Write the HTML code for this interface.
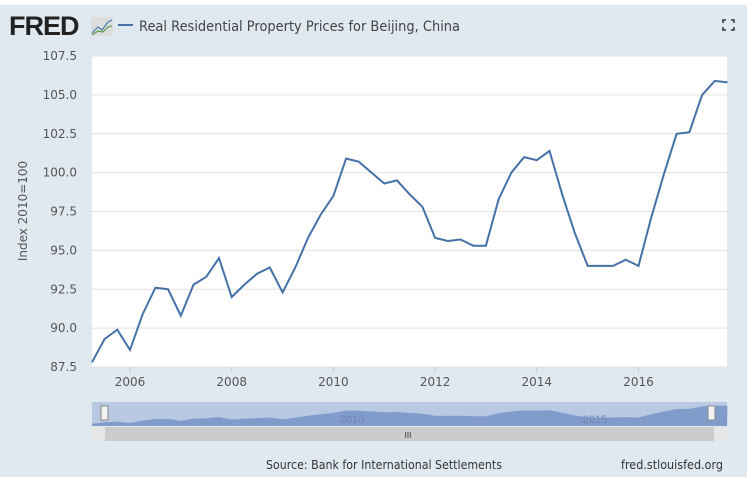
<!DOCTYPE html>
<html><head><meta charset="utf-8"><style>
body{margin:0;width:747px;height:477px;overflow:hidden;background:#fff;font-family:"Liberation Sans",sans-serif}
#bg{position:absolute;left:0;top:5px;width:747px;height:472px;background:#e1e9f0}
</style></head><body>
<div id="bg"></div>
<svg id="c" width="747" height="477" style="position:absolute;left:0;top:0">
<text x="9" y="35" font-size="27" font-weight="bold" fill="#222" font-family="Liberation Sans" letter-spacing="-1">FRED</text>
<g><rect x="91" y="17" width="22" height="19" fill="#ddd" rx="2"/><polyline points="92,33 98,27 102,30 108,22 112,20" fill="none" stroke="#4a7ab0" stroke-width="1.2"/><polyline points="92,35 98,31 103,32 108,27 112,26" fill="none" stroke="#5a9a40" stroke-width="1.2"/></g>
<line x1="118" y1="25" x2="133" y2="25" stroke="#4472a8" stroke-width="2"/>
<text x="139" y="31" font-size="14" fill="#444" font-family="DejaVu Sans" textLength="321" lengthAdjust="spacingAndGlyphs">Real Residential Property Prices for Beijing, China</text>
<g stroke="#333" stroke-width="1.5" fill="none"><path d="M723,23v-3h3M731,20h3v3M734,27v3h-3M726,30h-3v-3"/></g>
<rect x="92" y="56" width="635" height="311" fill="#fff"/>
<g id="grid"></g><g id="ticks"></g>
<text transform="translate(27,211) rotate(-90)" text-anchor="middle" font-size="12" fill="#555" font-family="DejaVu Sans">Index 2010=100</text>
<path id="line" fill="none" stroke="#4472a8" stroke-width="2"/>
<g>
<rect x="92" y="402" width="635" height="24" fill="#b9c9e4"/>
<path id="navarea" fill="#7f9ccb"/>
<text x="352" y="423" font-size="11" fill="#6f86b5" text-anchor="middle">2010</text>
<text x="595" y="423" font-size="11" fill="#6f86b5" text-anchor="middle">2015</text>
<rect x="101" y="406" width="7" height="14" fill="#f2f2f2" stroke="#888"/>
<rect x="708" y="406" width="7" height="14" fill="#f2f2f2" stroke="#888"/>
<rect x="92" y="427" width="635" height="14" fill="#ccc"/>
<rect x="92" y="427" width="13" height="14" fill="#e6e6e6"/><rect x="714" y="427" width="13" height="14" fill="#e6e6e6"/>
<text x="408" y="438" font-size="8" fill="#333" text-anchor="middle">III</text>
</g>
<text x="384" y="469" font-size="12" fill="#333" text-anchor="middle" font-family="DejaVu Sans" textLength="236" lengthAdjust="spacingAndGlyphs">Source: Bank for International Settlements</text>
<text x="723" y="469" font-size="12" fill="#333" text-anchor="end" font-family="DejaVu Sans" textLength="102" lengthAdjust="spacingAndGlyphs">fred.stlouisfed.org</text>
</svg>
<script>
const values=[87.8,89.3,89.9,88.6,90.9,92.6,92.5,90.8,92.8,93.3,94.5,92.0,92.8,93.5,93.9,92.3,93.9,95.8,97.3,98.5,100.9,100.7,100.0,99.3,99.5,98.6,97.8,95.8,95.6,95.7,95.3,95.3,98.3,100.0,101.0,100.8,101.4,98.6,96.1,94.0,94.0,94.0,94.4,94.0,97.1,99.9,102.5,102.6,105.0,105.9,105.8];
const startYear=2005.25;
const yTicks=[87.5,90.0,92.5,95.0,97.5,100.0,102.5,105.0,107.5];
const xTicks=[2006,2008,2010,2012,2014,2016];
const ns="http://www.w3.org/2000/svg";
const X=t=>130+(t-2006)*50.85, Y=v=>367-(v-87.5)*15.55;
const grid=document.getElementById('grid'),ticks=document.getElementById('ticks');
yTicks.forEach(v=>{
 const l=document.createElementNS(ns,'line');
 l.setAttribute('x1',92);l.setAttribute('x2',727);l.setAttribute('y1',Y(v));l.setAttribute('y2',Y(v));
 l.setAttribute('stroke','#e3e3e3');
 
 
 grid.appendChild(l);
 const t=document.createElementNS(ns,'text');
 t.setAttribute('x',77);t.setAttribute('y',Y(v)+4);t.setAttribute('text-anchor','end');
 t.setAttribute('font-size','12');t.setAttribute('fill','#555');t.setAttribute('font-family','DejaVu Sans');
 t.textContent=v.toFixed(1);
 
 
 ticks.appendChild(t);
});
xTicks.forEach(y=>{
 const l=document.createElementNS(ns,'line');
 l.setAttribute('x1',X(y));l.setAttribute('x2',X(y));l.setAttribute('y1',367);l.setAttribute('y2',373);
 l.setAttribute('stroke','#ccc');
 
 
 ticks.appendChild(l);
 const t=document.createElementNS(ns,'text');
 t.setAttribute('x',X(y));t.setAttribute('y',386);t.setAttribute('text-anchor','middle');
 t.setAttribute('font-size','12');t.setAttribute('fill','#555');t.setAttribute('font-family','DejaVu Sans');
 t.textContent=y;
 
 
 ticks.appendChild(t);
});
document.getElementById('line').setAttribute('d',values.map((v,i)=>(i?'L':'M')+X(startYear+i*0.25).toFixed(1)+','+Y(v).toFixed(1)).join(''));
const NY=v=>424-(v-87.5)*1.0;
let d='M92,426';values.forEach((v,i)=>{d+='L'+X(startYear+i*0.25).toFixed(1)+','+NY(v).toFixed(1)});d+='L727,426Z';
document.getElementById('navarea').setAttribute('d',d);
</script>
</body></html>
